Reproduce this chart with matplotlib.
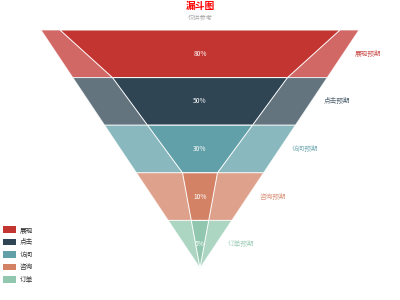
import numpy as np
import matplotlib
matplotlib.use("Agg")
import matplotlib.pyplot as plt
from matplotlib.patches import Polygon, Patch

plt.rcParams['font.family'] = ['Noto Sans CJK SC', 'DejaVu Sans']

# data
names = ['展现', '点击', '访问', '咨询', '订单']
expected = [100, 80, 60, 40, 20]
actual = [80, 50, 30, 10, 5]
colors = ['#c23531', '#2f4554', '#61a0a8', '#d48265', '#91c7ae']

# layout (pixels)
W, H = 400, 300
cx = 200
top, bottom = 30, 268
outer_scale = 3.18   # px per unit for the expected funnel
inner_scale = 3.5    # px per unit for the actual funnel

fig = plt.figure(figsize=(4, 3), dpi=100)
ax = fig.add_axes([0, 0, 1, 1])
ax.set_xlim(0, W)
ax.set_ylim(H, 0)
ax.axis('off')

n = len(names)
h = (bottom - top) / n


def funnel(vals, scale, alpha, z):
    widths = [v * scale for v in vals] + [0]
    for i in range(n):
        y0 = top + i * h
        y1 = y0 + h
        w0, w1 = widths[i], widths[i + 1]
        pts = [(cx - w0 / 2, y0), (cx + w0 / 2, y0), (cx + w1 / 2, y1), (cx - w1 / 2, y1)]
        ax.add_patch(Polygon(pts, closed=True, facecolor=colors[i], alpha=alpha,
                             edgecolor='white', linewidth=0.7, zorder=z))
    return widths


ow = funnel(expected, outer_scale, 0.75, 1)
funnel(actual, inner_scale, 1.0, 2)

for i in range(n):
    ym = top + (i + 0.5) * h
    right = cx + (ow[i] + ow[i + 1]) / 4
    ax.text(right + 12, ym, names[i] + '预期', color=colors[i], alpha=0.85,
            fontsize=4.8, va='center', ha='left')
    ax.text(cx, ym, f'{actual[i]}%', color='white', fontsize=4.8,
            va='center', ha='center', zorder=3)

ax.text(cx, 6, '漏斗图', color='red', fontsize=7, fontweight='bold',
        ha='center', va='center')
ax.text(cx, 18, '仅供参考', color='#aaaaaa', fontsize=4.5, style='italic',
        ha='center', va='center')

handles = [Patch(facecolor=c, edgecolor='none') for c in colors]
fig.legend(handles, names, loc='lower left', bbox_to_anchor=(-0.005, 0.038),
           frameon=False, fontsize=4.8, handlelength=2.0, handleheight=1.1,
           handletextpad=0.5, labelspacing=0.68, labelcolor='#333333',
           borderpad=0.4, borderaxespad=0.3)

fig.savefig('out.png', dpi=100)
